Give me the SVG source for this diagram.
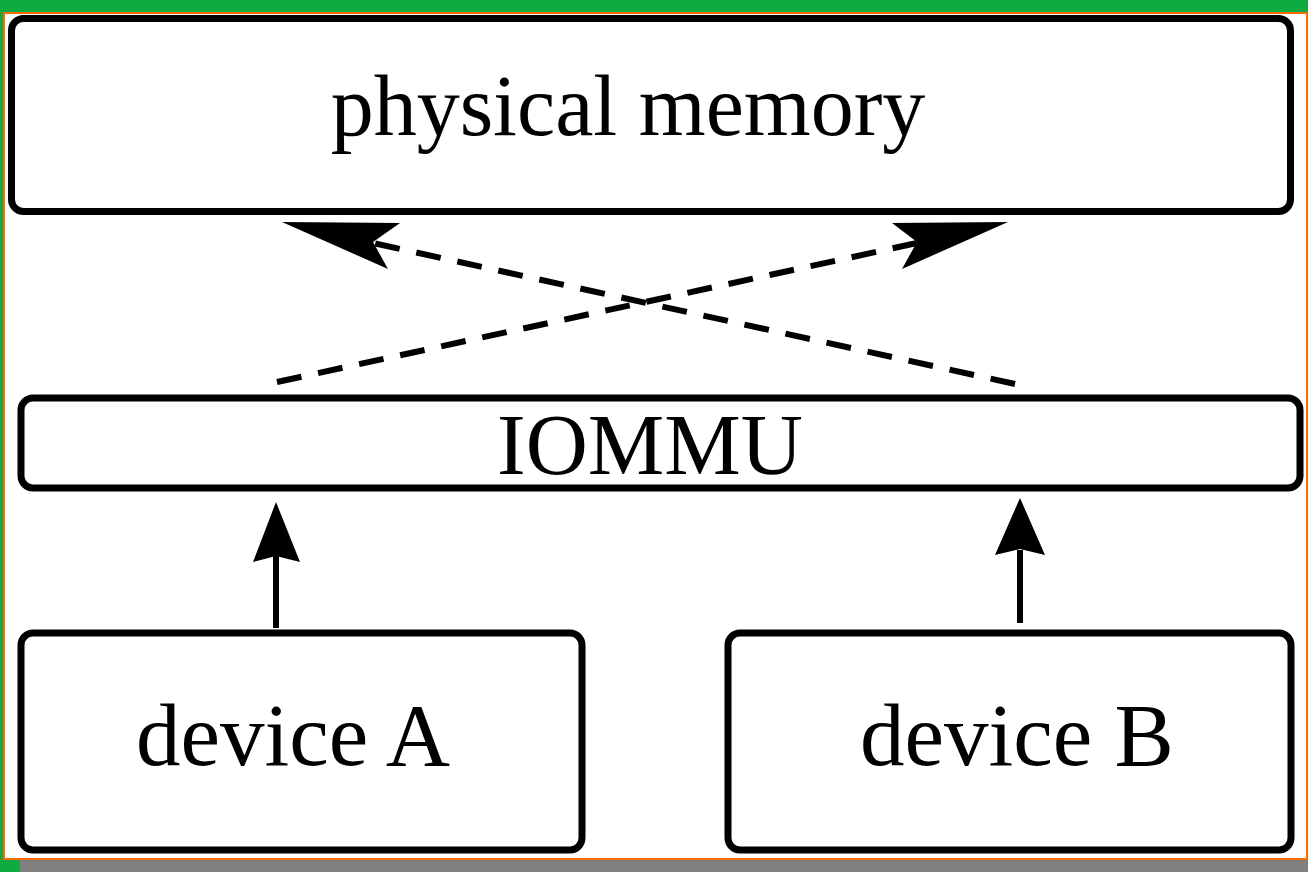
<svg xmlns="http://www.w3.org/2000/svg" width="1308" height="872" viewBox="0 0 1308 872">
  <style>
    .box { fill: #ffffff; stroke: #000000; stroke-width: 7; }
    .label { font-family: "Liberation Serif", "Times New Roman", serif; font-size: 86px; fill: #000000; text-anchor: middle; }
    .big { font-size: 89px; }
    .dash { fill: none; stroke: #000000; stroke-width: 6; stroke-dasharray: 25 17; }
    .shaft { fill: none; stroke: #000000; stroke-width: 6; }
    .head { fill: #000000; stroke: none; }
  </style>

  <!-- page frame -->
  <rect x="0" y="0" width="1308" height="872" fill="#0dab40"/>
  <rect x="3" y="12" width="1305" height="848" fill="#ff6a00"/>
  <rect x="5" y="14" width="1301" height="844" fill="#ffffff"/>
  <rect x="20" y="860" width="1288" height="12" fill="#808080"/>

  <g id="physical-memory">
    <rect class="box" x="11.5" y="18.5" width="1279" height="193" rx="12"/>
    <text class="label" x="628" y="135">physical memory</text>
  </g>

  <g id="iommu">
    <rect class="box" x="21" y="398" width="1279" height="90" rx="12"/>
    <text class="label" x="650" y="474">IOMMU</text>
  </g>

  <g id="device-a">
    <rect class="box" x="21" y="633" width="561" height="217" rx="12"/>
    <text class="label big" x="293" y="765">device A</text>
  </g>

  <g id="device-b">
    <rect class="box" x="728" y="633" width="563" height="217" rx="12"/>
    <text class="label big" x="1017" y="765">device B</text>
  </g>

  <g id="connectors">
    <!-- IOMMU to memory, crossing dashed paths -->
    <line class="dash" x1="277" y1="382" x2="917" y2="243"/>
    <polygon class="head" points="1008,222 892,223 917,242 902,269"/>
    <line class="dash" x1="1015" y1="384" x2="373" y2="243"/>
    <polygon class="head" points="282,222 400,223 373,242 388,269"/>

    <!-- devices to IOMMU -->
    <line class="shaft" x1="276" y1="628" x2="276" y2="556"/>
    <polygon class="head" points="276,502 300,562 276,556 253,562"/>
    <line class="shaft" x1="1020" y1="623" x2="1020" y2="550"/>
    <polygon class="head" points="1020,498 1045,555 1020,549 995,555"/>
  </g>
</svg>
